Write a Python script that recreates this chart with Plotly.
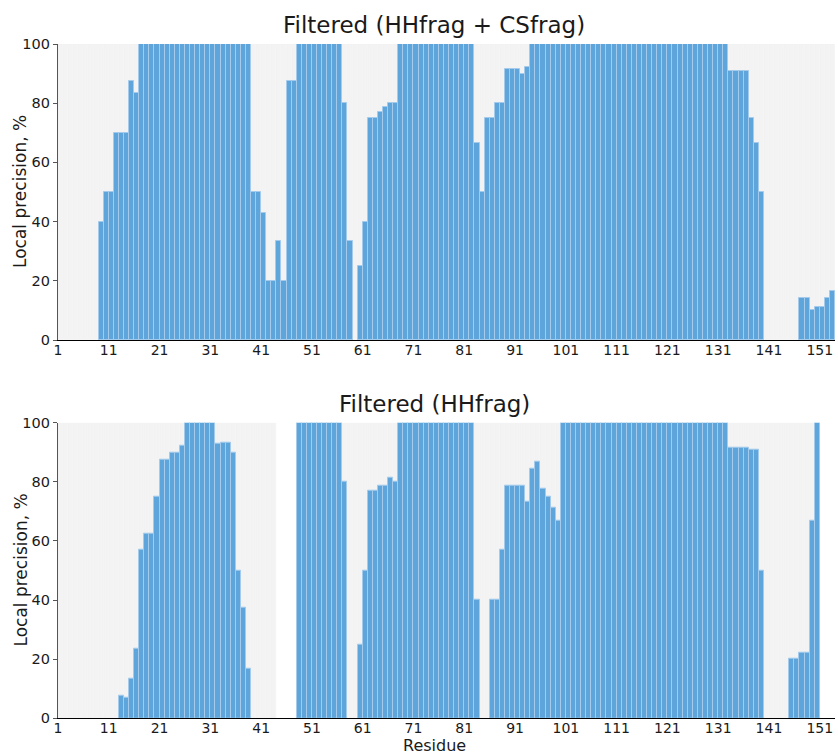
import plotly.graph_objects as go

# Residue numbers
residues_top = list(range(1, 154))
residues_bottom = list(range(1, 151))

# Local precision (%) - Filtered (HHfrag + CSfrag); residues 1..153
precision_top = [
    0, 0, 0, 0, 0, 0, 0, 0, 40, 50,
    50, 70, 70, 70, 87.5, 83.3, 100, 100, 100, 100,
    100, 100, 100, 100, 100, 100, 100, 100, 100, 100,
    100, 100, 100, 100, 100, 100, 100, 100, 50, 50,
    42.9, 20, 20, 33.3, 20, 87.5, 87.5, 100, 100, 100,
    100, 100, 100, 100, 100, 100, 80, 33.3, 0, 25,
    40, 75, 75, 76.9, 78.6, 80, 80, 100, 100, 100,
    100, 100, 100, 100, 100, 100, 100, 100, 100, 100,
    100, 100, 66.7, 50, 75, 75, 80, 80, 91.7, 91.7,
    91.7, 90, 92.3, 100, 100, 100, 100, 100, 100, 100,
    100, 100, 100, 100, 100, 100, 100, 100, 100, 100,
    100, 100, 100, 100, 100, 100, 100, 100, 100, 100,
    100, 100, 100, 100, 100, 100, 100, 100, 100, 100,
    100, 100, 90.9, 90.9, 90.9, 90.9, 75, 66.7, 50, 0,
    0, 0, 0, 0, 0, 0, 14.3, 14.3, 10, 11.1,
    11.1, 14.3, 16.7,
]

# Local precision (%) - Filtered (HHfrag); residues 1..150, None = not evaluated
precision_bottom = [
    0, 0, 0, 0, 0, 0, 0, 0, 0, 0,
    0, 0, 7.7, 7.1, 13.3, 23.5, 57.1, 62.5, 62.5, 75,
    87.5, 87.5, 90, 90, 92.3, 100, 100, 100, 100, 100,
    100, 92.9, 93.3, 93.3, 90, 50, 37.5, 16.7, 0, 0,
    0, 0, 0, None, None, None, None, 100, 100, 100,
    100, 100, 100, 100, 100, 100, 80, 0, 0, 25,
    50, 76.9, 76.9, 78.6, 78.6, 81.3, 80, 100, 100, 100,
    100, 100, 100, 100, 100, 100, 100, 100, 100, 100,
    100, 100, 40, 0, 0, 40, 40, 57.1, 78.6, 78.6,
    78.6, 78.6, 73.3, 84.6, 86.7, 77.8, 75, 71.4, 66.7, 100,
    100, 100, 100, 100, 100, 100, 100, 100, 100, 100,
    100, 100, 100, 100, 100, 100, 100, 100, 100, 100,
    100, 100, 100, 100, 100, 100, 100, 100, 100, 100,
    100, 100, 91.7, 91.7, 91.7, 91.7, 90.9, 90.9, 50, 0,
    0, 0, 0, 0, 20, 20, 22.2, 22.2, 66.7, 100,
]

x_tick_vals = [1, 11, 21, 31, 41, 51, 61, 71, 81, 91, 101, 111, 121, 131, 141, 151]
y_tick_vals = [0, 20, 40, 60, 80, 100]
titles = ["Filtered (HHfrag + CSfrag)", "Filtered (HHfrag)"]

BLUE = "#5DA5DA"
BLUE_EDGE = "#a4cbec"
GREY = "#f3f3f3"
GREY_EDGE = "#f5f5f5"
FONT = "DejaVu Sans"
TXT = "#1a1a1a"

fig = go.Figure()


def add_panel(res, vals, xa, ya):
    bg_x = [r for r, v in zip(res, vals) if v is not None]
    fig.add_trace(go.Bar(
        x=bg_x, y=[y_tick_vals[-1]] * len(bg_x), width=1, offset=0,
        marker=dict(color=GREY, line=dict(color=GREY_EDGE, width=0.5)),
        xaxis=xa, yaxis=ya, showlegend=False, hoverinfo="skip"))
    bx = [r for r, v in zip(res, vals) if v]
    by = [v for v in vals if v]
    fig.add_trace(go.Bar(
        x=bx, y=by, width=1, offset=0,
        marker=dict(color=BLUE, line=dict(color=BLUE_EDGE, width=1)),
        xaxis=xa, yaxis=ya, showlegend=False))


add_panel(residues_top, precision_top, "x", "y")
add_panel(residues_bottom, precision_bottom, "x2", "y2")

H = 754.0
W = 838.0
top_dom = [1 - 340 / H, 1 - 44 / H]
bot_dom = [1 - 718.3 / H, 1 - 422.7 / H]

xcommon = dict(range=[1, 154], tickmode="array", tickvals=x_tick_vals,
               ticks="", showline=True, linecolor="black", linewidth=1.3,
               showgrid=False, zeroline=False, automargin=False,
               ticklabelstandoff=-3,
               tickfont=dict(family=FONT, size=14, color=TXT), domain=[58 / W, 835 / W])
ycommon = dict(range=[0, 100], tickmode="array", tickvals=y_tick_vals,
               ticks="outside", ticklen=4, tickcolor="#555", tickwidth=1.2,
               showline=True, linecolor="#555", linewidth=1.3,
               showgrid=False, zeroline=False, automargin=False,
               tickfont=dict(family=FONT, size=14.5, color=TXT))

fig.update_layout(
    width=838, height=754,
    margin=dict(l=0, r=0, t=0, b=0, autoexpand=False),
    paper_bgcolor="white", plot_bgcolor="white",
    barmode="overlay", bargap=0,
    xaxis=dict(**xcommon, anchor="y"),
    yaxis=dict(**ycommon, domain=top_dom, anchor="x"),
    xaxis2=dict(**xcommon, anchor="y2"),
    yaxis2=dict(**ycommon, domain=bot_dom, anchor="x2"),
)

annos = [
    dict(text=titles[0], x=434 / W, y=1 - 25 / H, font=dict(size=23)),
    dict(text=titles[1], x=434 / W, y=1 - 404 / H, font=dict(size=23)),
    dict(text="Local precision, %", x=20 / W, y=1 - 192 / H, textangle=-90, font=dict(size=17)),
    dict(text="Local precision, %", x=20 / W, y=1 - 570.5 / H, textangle=-90, font=dict(size=17)),
    dict(text="Residue", x=434 / W, y=1 - 745 / H, font=dict(size=16)),
]
for a in annos:
    a["font"].update(family=FONT, color=TXT)
    fig.add_annotation(xref="paper", yref="paper", xanchor="center", yanchor="middle",
                       showarrow=False, **a)

fig.write_html(
    "out.html",
    config={"displayModeBar": False},
    post_script="document.body.style.margin='0';document.body.style.overflow='hidden';",
)
